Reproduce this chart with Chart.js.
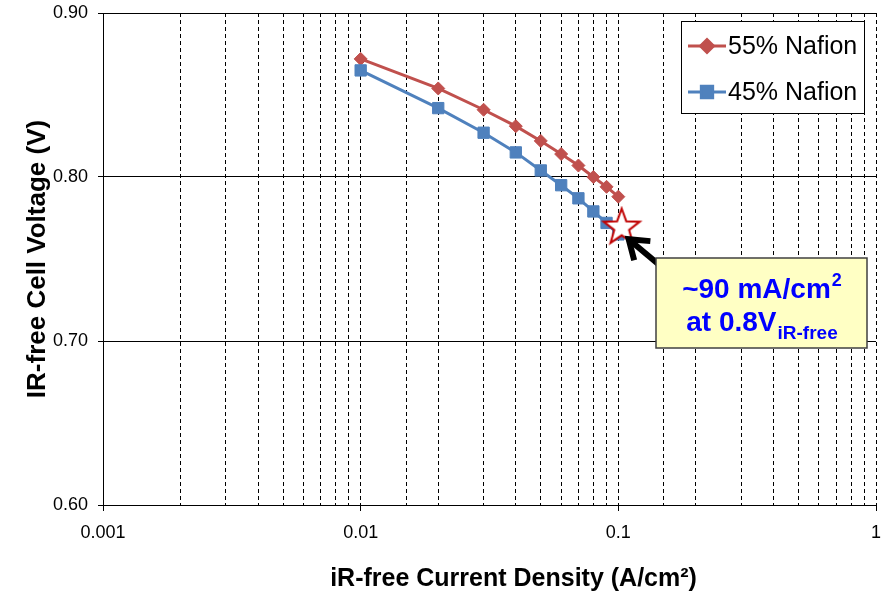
<!DOCTYPE html>
<html>
<head>
<meta charset="utf-8">
<script src="https://cdn.jsdelivr.net/npm/chart.js@4/dist/chart.umd.min.js"></script>
<style>
  html, body { margin: 0; padding: 0; background: #fff; }
  #wrap { width: 885px; height: 599px; }
</style>
</head>
<body>
<div id="wrap"><canvas id="chart" width="885" height="599"></canvas></div>
<script>
// values
const currentDensity = [0.01, 0.02, 0.03, 0.04, 0.05, 0.06, 0.07, 0.08, 0.09, 0.1]
const nafion55 = [0.872, 0.854, 0.841, 0.831, 0.822, 0.814, 0.807, 0.800, 0.794, 0.788]
const nafion45 = [0.865, 0.842, 0.827, 0.815, 0.804, 0.795, 0.787, 0.779, 0.772, 0.765]
const seriesNames = ['55% Nafion', '45% Nafion']
const starX = [0.103]
const starY = [0.7692]
const voltageTicks = [0.6, 0.7, 0.8, 0.9]
const densityLabels = { '-3': '0.001', '-2': '0.01', '-1': '0.1', '0': '1' }
const xTitle = 'iR-free Current Density (A/cm²)'
const yTitle = 'IR-free Cell Voltage (V)'
const noteText = ['~90 mA/cm', '2', 'at 0.8V', 'iR-free']

const FONT = '"Liberation Sans", Arial, sans-serif'
const RED = '#C0504D'
const BLUE = '#4F81BD'

window.addEventListener('DOMContentLoaded', init)

function init() {
    const ctx = document.getElementById('chart')
    new Chart(ctx, makeConfig())
}

function toPoints(xs, ys) {
    return xs.map((x, i) => ({ x: x, y: ys[i] }))
}

function logPower(v) {
    const p = Math.log10(v)
    return Math.abs(p - Math.round(p)) < 1e-6 ? Math.round(p) : null
}

function starImage() {
    const c = document.createElement('canvas')
    c.width = 44
    c.height = 44
    const g = c.getContext('2d')
    const R = 19, r = 7.8
    g.beginPath()
    for (let i = 0; i < 10; i++) {
        const rad = i % 2 === 0 ? R : r
        const a = -Math.PI / 2 + i * Math.PI / 5
        const px = 22 + rad * Math.cos(a)
        const py = 22 + rad * Math.sin(a)
        i === 0 ? g.moveTo(px, py) : g.lineTo(px, py)
    }
    g.closePath()
    g.fillStyle = '#fff'
    g.fill()
    g.lineWidth = 2
    g.strokeStyle = '#C00000'
    g.stroke()
    return c
}

// legend box in the top right corner
const legendBox = {
    id: 'legendBox',
    afterDraw(chart) {
        const c = chart.ctx
        const x = 681, y = 21, w = 183, h = 92
        c.save()
        c.fillStyle = '#fff'
        c.fillRect(x, y, w, h)
        c.strokeStyle = '#000'
        c.lineWidth = 1
        c.strokeRect(x + 0.5, y + 0.5, w, h)
        const rows = [
            { color: RED, style: 'rectRot', radius: 6.5 },
            { color: BLUE, style: 'rect', radius: 8 }
        ]
        rows.forEach((row, i) => {
            const cy = y + 25 + i * 46
            c.strokeStyle = row.color
            c.fillStyle = row.color
            c.lineWidth = 3
            c.beginPath()
            c.moveTo(x + 7, cy)
            c.lineTo(x + 45, cy)
            c.stroke()
            Chart.helpers.drawPoint(c, { pointStyle: row.style, radius: row.radius, borderWidth: 1, rotation: 0 }, x + 26, cy)
            c.fillStyle = '#000'
            c.font = '25px ' + FONT
            c.textBaseline = 'middle'
            c.textAlign = 'left'
            c.fillText(seriesNames[i], x + 47, cy + 1)
        })
        c.restore()
    }
}

// x title sits a bit right of the plot centre in the original
const xTitlePlugin = {
    id: 'xTitlePlugin',
    afterDraw(chart) {
        const c = chart.ctx
        const area = chart.chartArea
        c.save()
        c.fillStyle = '#000'
        c.font = 'bold 25px ' + FONT
        c.textAlign = 'center'
        c.textBaseline = 'middle'
        c.fillText(xTitle, (area.left + area.right) / 2 + 24, 579)
        c.restore()
    }
}

// arrow + yellow note pointing at the star
const noteBox = {
    id: 'noteBox',
    afterDraw(chart) {
        const c = chart.ctx
        const sx = chart.scales.x.getPixelForValue(starX[0])
        const sy = chart.scales.y.getPixelForValue(starY[0])
        const tipX = sx + 5, tipY = sy + 10
        c.save()
        // arrow
        c.strokeStyle = '#000'
        c.lineWidth = 6
        c.lineCap = 'butt'
        c.lineJoin = 'miter'
        c.beginPath()
        c.moveTo(tipX + 2, tipY + 1.7)
        c.lineTo(tipX + 62, tipY + 52)
        c.stroke()
        const ang = Math.atan2(49, 58)
        c.beginPath()
        c.moveTo(tipX + 24 * Math.cos(ang - 0.55), tipY + 24 * Math.sin(ang - 0.55))
        c.lineTo(tipX + 2, tipY + 1.7)
        c.lineTo(tipX + 24 * Math.cos(ang + 0.55), tipY + 24 * Math.sin(ang + 0.55))
        c.stroke()
        // box
        const bx = 656, by = 258, bw = 211, bh = 90
        c.fillStyle = '#FFFFC4'
        c.fillRect(bx, by, bw, bh)
        c.strokeStyle = '#404040'
        c.lineWidth = 1.5
        c.strokeRect(bx, by, bw, bh)
        // text
        c.fillStyle = '#0000FF'
        c.textBaseline = 'alphabetic'
        c.textAlign = 'left'
        c.font = 'bold 28px ' + FONT
        let w1 = c.measureText(noteText[0]).width
        c.font = 'bold 18px ' + FONT
        let w2 = c.measureText(noteText[1]).width
        let x0 = bx + (bw - w1 - w2) / 2
        c.font = 'bold 28px ' + FONT
        c.fillText(noteText[0], x0, by + 40)
        c.font = 'bold 18px ' + FONT
        c.fillText(noteText[1], x0 + w1 + 1, by + 28)
        c.font = 'bold 28px ' + FONT
        w1 = c.measureText(noteText[2]).width
        c.font = 'bold 19px ' + FONT
        w2 = c.measureText(noteText[3]).width
        x0 = bx + (bw - w1 - w2) / 2
        c.font = 'bold 28px ' + FONT
        c.fillText(noteText[2], x0, by + 73)
        c.font = 'bold 19px ' + FONT
        c.fillText(noteText[3], x0 + w1 + 1, by + 81)
        c.restore()
    }
}

function makeConfig() {
    const data = {
        datasets: [
            {
                label: seriesNames[0],
                data: toPoints(currentDensity, nafion55),
                borderColor: RED,
                backgroundColor: RED,
                borderWidth: 3,
                pointStyle: 'rectRot',
                pointRadius: 6.5,
                pointBorderWidth: 1,
                showLine: true,
                order: 2
            },
            {
                label: seriesNames[1],
                data: toPoints(currentDensity, nafion45),
                borderColor: BLUE,
                backgroundColor: BLUE,
                borderWidth: 3,
                pointStyle: 'rect',
                pointRadius: 8,
                pointBorderWidth: 1,
                showLine: true,
                order: 1
            },
            {
                label: 'star',
                data: toPoints(starX, starY),
                pointStyle: starImage(),
                showLine: false,
                order: 0
            }
        ]
    }

    return {
        type: 'scatter',
        data,
        options: {
            responsive: false,
            animation: false,
            layout: { padding: { top: 13, right: 9, left: 0, bottom: 0 } },
            plugins: {
                legend: { display: false },
                tooltip: { enabled: false }
            },
            scales: {
                x: {
                    type: 'logarithmic',
                    min: 0.001,
                    max: 1,
                    afterFit: s => {
                        s.height = 94
                        s.paddingLeft = 0
                        s.paddingRight = 0
                    },
                    border: { color: '#000', width: 1, dash: [4, 3] },
                    grid: {
                        color: '#000',
                        lineWidth: 1,
                        tickLength: 6,
                        tickColor: c => logPower(c.tick.value) !== null ? '#000' : 'rgba(0,0,0,0)'
                    },
                    ticks: {
                        autoSkip: false,
                        maxRotation: 0,
                        padding: 11,
                        color: '#000',
                        font: { family: FONT, size: 18 },
                        callback: v => {
                            const p = logPower(v)
                            return p === null ? '' : densityLabels[String(p)]
                        }
                    }
                },
                y: {
                    min: 0.6,
                    max: 0.9,
                    afterFit: s => {
                        s.width = 103
                        s.paddingTop = 0
                        s.paddingBottom = 0
                    },
                    afterBuildTicks: s => { s.ticks = voltageTicks.map(v => ({ value: v })) },
                    border: { color: '#000', width: 1 },
                    grid: { color: '#000', lineWidth: 1, tickLength: 5 },
                    ticks: {
                        padding: 10,
                        color: '#000',
                        font: { family: FONT, size: 18 },
                        callback: v => v.toFixed(2)
                    },
                    title: {
                        display: true,
                        text: yTitle,
                        color: '#000',
                        font: { family: FONT, size: 26, weight: 'bold' },
                        padding: { top: 22, bottom: 0 }
                    }
                }
            }
        },
        plugins: [legendBox, xTitlePlugin, noteBox]
    }
}
</script>
</body>
</html>
